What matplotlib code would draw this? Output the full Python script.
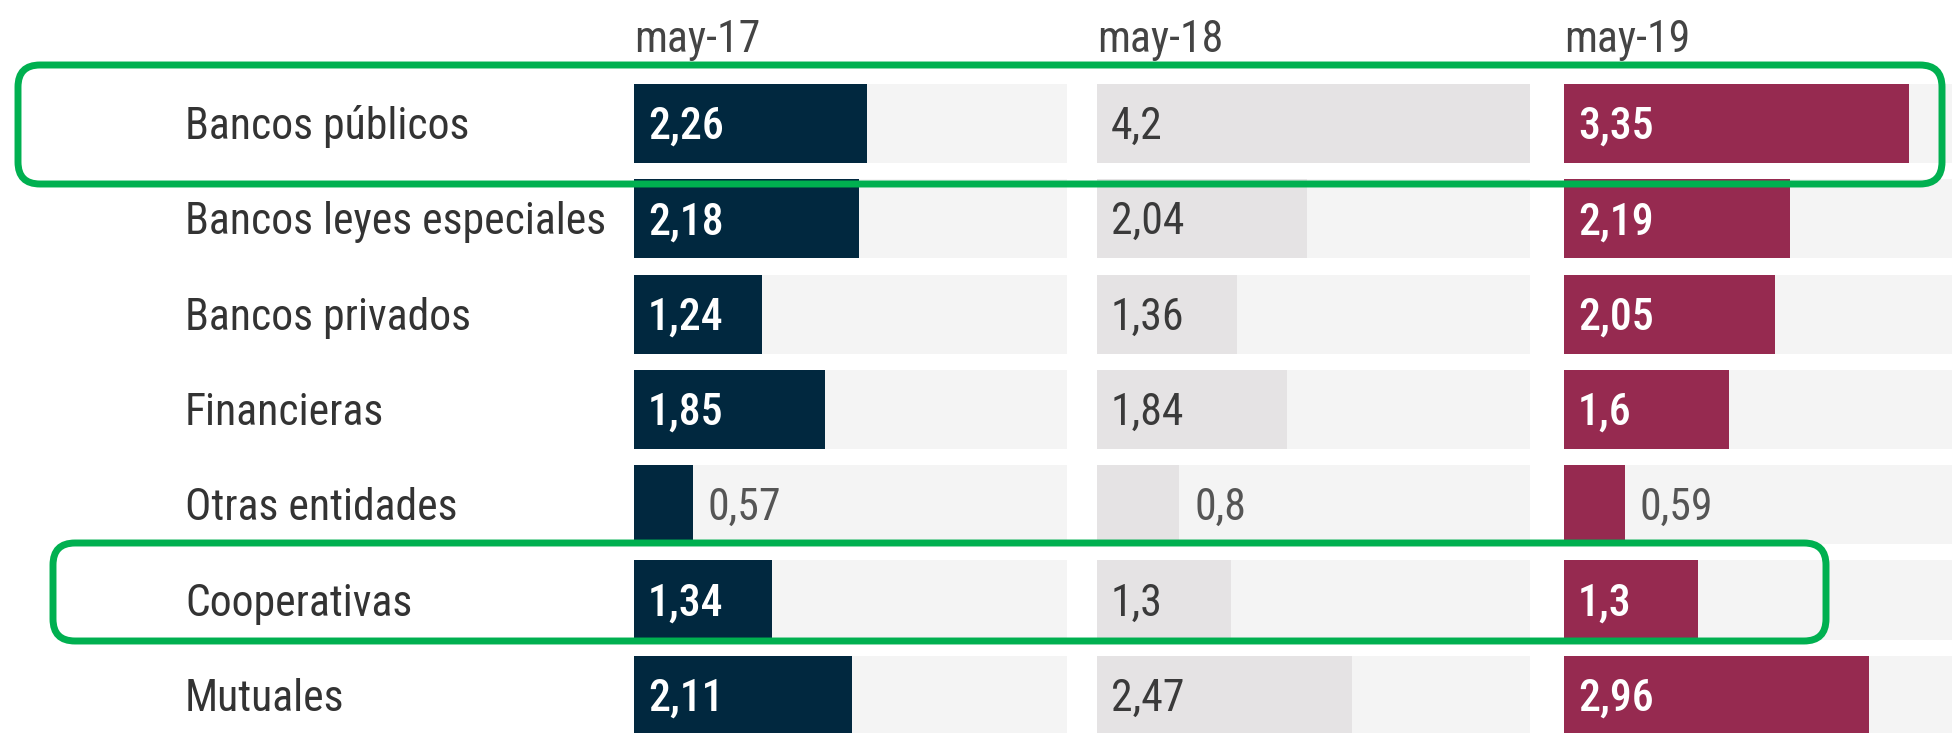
import matplotlib.pyplot as plt
import matplotlib.transforms as mtransforms
from matplotlib.patches import FancyBboxPatch

categories = ["Bancos públicos", "Bancos leyes especiales", "Bancos privados",
              "Financieras", "Otras entidades", "Cooperativas", "Mutuales"]
periods = ["may-17", "may-18", "may-19"]
may17 = [2.26, 2.18, 1.24, 1.85, 0.57, 1.34, 2.11]
may18 = [4.2, 2.04, 1.36, 1.84, 0.8, 1.3, 2.47]
may19 = [3.35, 2.19, 2.05, 1.6, 0.59, 1.3, 2.96]

bar_colors = ["#01283f", "#e5e3e4", "#962a50"]
label_colors = ["white", "#3a3a3a", "white"]
track_color = "#f4f4f4"
green = "#00b050"

plt.rcParams['font.family'] = ['Roboto Condensed', 'DejaVu Sans']
FS = 31.5

W, H = 1952, 733
fig = plt.figure(figsize=(W / 100, H / 100), dpi=100)
# pixel coordinates measured from the top-left corner
px = mtransforms.Affine2D().scale(1 / W, -1 / H).translate(0, 1) + fig.transFigure

xmax = max(may17 + may18 + may19)
n = len(categories)
pitch = 95.3
top = 123.5 - pitch / 2
lefts = [634, 1097, 1564]
panel_w = 433
cap_off = -FS * 100 / 72 * 0.711 / 2

axes = []
for k, (vals, name) in enumerate(zip([may17, may18, may19], periods)):
    ax = fig.add_axes([lefts[k] / W, 1 - (top + n * pitch) / H,
                       panel_w / W, n * pitch / H])
    ys = list(range(n))
    ax.barh(ys, [xmax] * n, height=0.83, color=track_color, lw=0)
    ax.barh(ys, vals, height=0.83, color=bar_colors[k], lw=0)
    ax.set_xlim(0, xmax)
    ax.set_ylim(n - 0.5, -0.5)
    ax.axis('off')
    for y, v in zip(ys, vals):
        txt = f"{v:g}".replace(".", ",")
        if v < 1:
            ax.annotate(txt, (v, y), xytext=(15, cap_off), textcoords="offset pixels",
                        ha="left", va="baseline", fontsize=FS, color="#555555")
        else:
            ax.annotate(txt, (0, y), xytext=(14, cap_off), textcoords="offset pixels",
                        ha="left", va="baseline", fontsize=FS, color=label_colors[k],
                        fontweight=500 if k != 1 else "normal")
    ax.text(0, 1 - 52 / H, name, transform=mtransforms.blended_transform_factory(
        ax.transAxes, fig.transFigure), ha="left", va="baseline",
        fontsize=FS, color="#444444")
    axes.append(ax)

# category names on the left
lab_tr = mtransforms.blended_transform_factory(fig.transFigure, axes[0].transData)
for y, c in enumerate(categories):
    axes[0].annotate(c, (185 / W, y), xycoords=lab_tr, xytext=(0, cap_off),
                     textcoords="offset pixels", ha="left", va="baseline",
                     fontsize=FS, color="#333333", annotation_clip=False)

# highlight boxes
for x0, y0, x1, y1 in [(18, 65, 1942, 184), (53, 543, 1826, 641)]:
    box = FancyBboxPatch((x0, y0), x1 - x0, y1 - y0,
                         boxstyle="round,pad=0,rounding_size=22",
                         transform=px, fill=False, ec=green, lw=5, zorder=10)
    fig.add_artist(box)

fig.savefig("out.png", dpi=100)
